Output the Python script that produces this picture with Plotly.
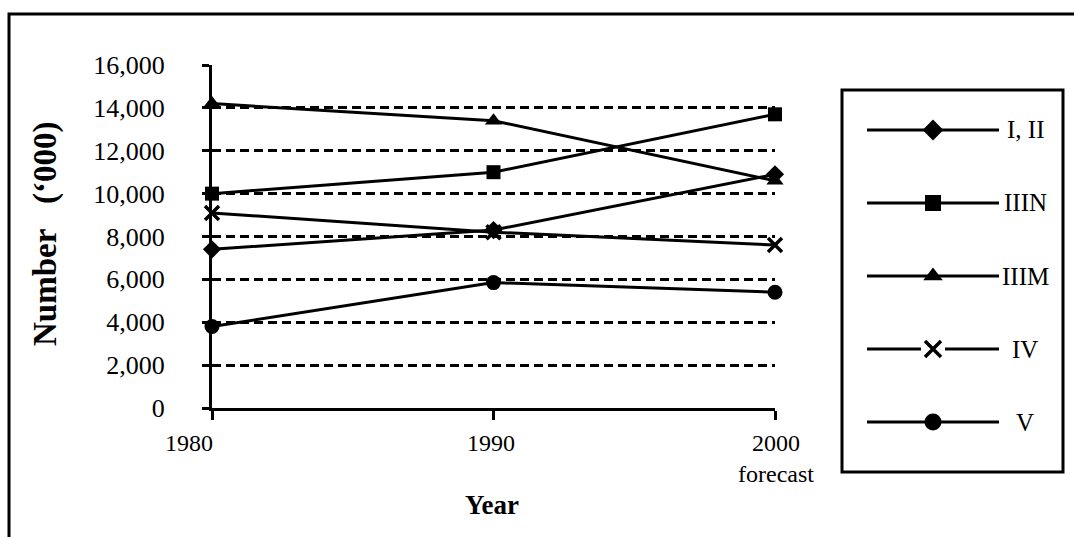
import plotly.graph_objects as go

# Figure size in pixels
W, H = 1074, 537

# ---- data -------------------------------------------------------------
years = [1980, 1990, 2000]
year_labels = ["1980", "1990", "2000<br>forecast"]

series_names = ["I, II", "IIIN", "IIIM", "IV", "V"]
class_i_ii = [7400, 8300, 10900]
class_iiin = [10000, 11000, 13700]
class_iiim = [14200, 13400, 10600]
class_iv = [9100, 8200, 7600]
class_v = [3800, 5850, 5400]

y_ticks = [0, 2000, 4000, 6000, 8000, 10000, 12000, 14000, 16000]
y_tick_labels = ["0", "2,000", "4,000", "6,000", "8,000",
                 "10,000", "12,000", "14,000", "16,000"]

# ---- styling ----------------------------------------------------------
FONT = "Liberation Serif"
INK = "black"

# plot area edges in pixels
PL, PR, PT, PB = 212, 775, 65, 408
# legend box edges in pixels
LL, LR, LT, LB = 842, 1063, 90, 472


def fx(px):
    return px / W


def fy(py):
    return 1 - py / H


marker_styles = [
    dict(symbol="diamond", size=14, line=dict(width=0)),
    dict(symbol="square", size=14, line=dict(width=0)),
    dict(symbol="triangle-up", size=15, line=dict(width=0)),
    dict(symbol="x-thin", size=14, line=dict(width=3.5, color=INK)),
    dict(symbol="circle", size=15, line=dict(width=0)),
]

series_values = [class_i_ii, class_iiin, class_iiim, class_iv, class_v]

fig = go.Figure()

# main series
for name, vals, ms in zip(series_names, series_values, marker_styles):
    fig.add_trace(go.Scatter(
        x=years, y=vals, name=name, mode="lines+markers",
        line=dict(color=INK, width=3),
        marker=dict(color=INK, **ms),
        cliponaxis=False, showlegend=False, hoverinfo="x+y+name",
    ))

# legend samples drawn on their own small axes (pixel units)
row_y = [130, 203, 276, 349, 422]
seg_x0, seg_mid, seg_x1 = 867, 933, 999
label_x = 1025
for name, ms, ry in zip(series_names, marker_styles, row_y):
    if ms["symbol"] == "x-thin":
        lx = [seg_x0, seg_mid - 12, None, seg_mid + 12, seg_x1]
        ly = [ry, ry, None, ry, ry]
    else:
        lx = [seg_x0, seg_x1]
        ly = [ry, ry]
    fig.add_trace(go.Scatter(
        x=lx, y=ly, mode="lines", xaxis="x2", yaxis="y2",
        line=dict(color=INK, width=3), showlegend=False, hoverinfo="skip",
    ))
    big = dict(ms)
    big["size"] = ms["size"] + 2
    fig.add_trace(go.Scatter(
        x=[seg_mid], y=[ry], mode="markers", xaxis="x2", yaxis="y2",
        marker=dict(color=INK, **big), showlegend=False, hoverinfo="skip",
        cliponaxis=False,
    ))

annotations = []

# legend labels
for name, ry in zip(series_names, row_y):
    annotations.append(dict(
        x=label_x, y=ry, xref="x2", yref="y2", text=name, showarrow=False,
        xanchor="center", yanchor="middle",
        font=dict(family=FONT, size=25, color=INK),
    ))

# x tick labels
label_shift = [-23, -3, 1]
for yr, txt, sh in zip(years, year_labels, label_shift):
    annotations.append(dict(
        x=yr, y=fy(428), xref="x", yref="paper", text=txt, showarrow=False,
        xanchor="center", yanchor="top", xshift=sh,
        font=dict(family=FONT, size=24, color=INK),
    ))

# axis titles
annotations.append(dict(
    x=fx(492), y=fy(505), xref="paper", yref="paper", text="<b>Year</b>",
    showarrow=False, xanchor="center", yanchor="middle",
    font=dict(family=FONT, size=27, color=INK),
))
annotations.append(dict(
    x=fx(45), y=fy(234), xref="paper", yref="paper",
    text="<b>Number\u00a0\u00a0\u00a0(\u2018000)</b>", textangle=-90,
    showarrow=False, xanchor="center", yanchor="middle",
    font=dict(family=FONT, size=33, color=INK),
))

shapes = [
    # outer frame (top and left edges)
    dict(type="path", xref="paper", yref="paper",
         path=f"M {fx(9)},{fy(537)} L {fx(9)},{fy(14)} L {fx(1074)},{fy(14)}",
         line=dict(color=INK, width=3)),
    # legend box
    dict(type="rect", xref="paper", yref="paper",
         x0=fx(LL), x1=fx(LR), y0=fy(LB), y1=fy(LT),
         line=dict(color=INK, width=3), fillcolor="rgba(0,0,0,0)"),
]

fig.update_layout(
    width=W, height=H,
    margin=dict(l=0, r=0, t=0, b=0),
    template="none",
    paper_bgcolor="white", plot_bgcolor="white",
    font=dict(family=FONT, color=INK),
    showlegend=False,
    annotations=annotations,
    shapes=shapes,
    xaxis=dict(
        domain=[fx(PL), fx(PR)], range=[1980, 2000],
        tickvals=years, showticklabels=False,
        ticks="outside", ticklen=9, tickwidth=2.5, tickcolor=INK,
        showline=True, linecolor=INK, linewidth=3,
        showgrid=False, zeroline=False, automargin=False, anchor="y",
    ),
    yaxis=dict(
        domain=[fy(PB), fy(PT)], range=[0, 16000],
        tickvals=y_ticks, ticktext=y_tick_labels,
        tickfont=dict(family=FONT, size=26, color=INK),
        ticks="outside", ticklen=7, tickwidth=2.5, tickcolor=INK,
        ticklabelstandoff=32,
        showline=True, linecolor=INK, linewidth=3,
        showgrid=True, gridcolor=INK, gridwidth=3, griddash="9px,5px",
        zeroline=False, automargin=False, anchor="x",
    ),
    xaxis2=dict(domain=[fx(LL), fx(LR)], range=[LL, LR], visible=False,
                anchor="y2", fixedrange=True),
    yaxis2=dict(domain=[fy(LB), fy(LT)], range=[LB, LT], visible=False,
                anchor="x2", fixedrange=True),
)

fig.write_html("out.html")
